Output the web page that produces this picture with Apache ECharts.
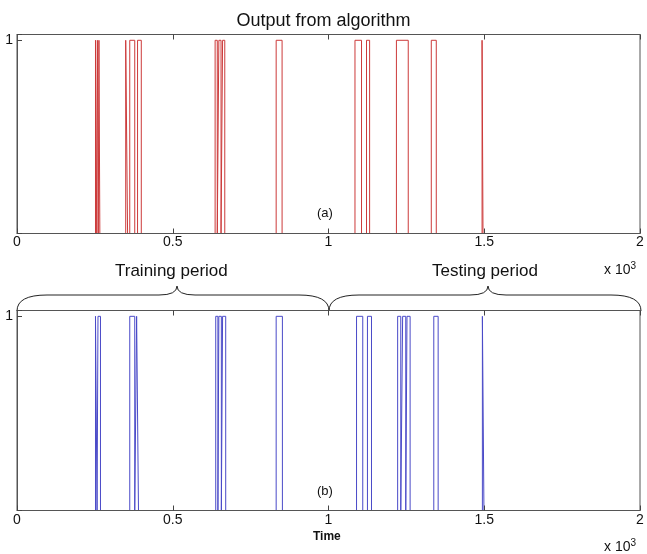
<!DOCTYPE html>
<html>
<head>
<meta charset="utf-8">
<script src="https://cdn.jsdelivr.net/npm/echarts@6/dist/echarts.min.js"></script>
<style>
  html, body { margin: 0; padding: 0; background: #fff; }
  #chart { width: 647px; height: 554px; }
</style>
</head>
<body>
<div id="chart"></div>
<script>
// pulse start/end times (samples)
const redPulses = [
  [252, 256], [258, 261], [263, 266], [349, 355], [362, 378], [387, 399],
  [636, 643], [648, 655], [660, 667], [832, 851], [1085, 1106], [1122, 1132],
  [1218, 1256], [1330, 1346], [1493, 1496],
]
const bluePulses = [
  [252, 257], [260, 268], [362, 378], [384, 390], [638, 645], [648, 656],
  [660, 670], [832, 852], [1090, 1110], [1125, 1138], [1222, 1232],
  [1238, 1248], [1252, 1262], [1338, 1352], [1494, 1499],
]
const xTicks = [0, 500, 1000, 1500, 2000]
const xMax = 2000
const yMax = 1.03

const FONT = 'Liberation Sans, Arial, sans-serif'

function toSteps(pulses) {
  const pts = [[0, 0]]
  pulses.forEach(([a, b]) => {
    pts.push([a, 0], [a, 1], [b, 1], [b, 0])
  })
  pts.push([xMax, 0])
  return pts
}

function xLabel(v) {
  return xTicks.includes(v) ? String(v / 1000) : ''
}

function bottomAxis(gridIndex, margin) {
  return {
    gridIndex,
    type: 'value',
    z: 5,
    min: 0,
    max: xMax,
    interval: 500,
    axisLine: { lineStyle: { color: '#555', width: 1 } },
    axisTick: { inside: true, length: 5, lineStyle: { color: '#444' } },
    axisLabel: { color: '#111', fontSize: 14, fontFamily: FONT, margin, formatter: xLabel },
    splitLine: { show: false },
  }
}

function topAxis(gridIndex) {
  return {
    gridIndex,
    type: 'value',
    position: 'top',
    min: 0,
    max: xMax,
    interval: 500,
    axisLine: { lineStyle: { color: '#555', width: 1 } },
    axisTick: { inside: true, length: 5, lineStyle: { color: '#444' } },
    axisLabel: { show: false },
    splitLine: { show: false },
  }
}

function leftAxis(gridIndex) {
  return {
    gridIndex,
    type: 'value',
    z: 5,
    min: 0,
    max: yMax,
    interval: 1,
    axisLine: { show: true, lineStyle: { color: '#555', width: 1 } },
    axisTick: { inside: true, length: 5, lineStyle: { color: '#444' } },
    axisLabel: {
      color: '#111', fontSize: 14, fontFamily: FONT, margin: 4,
      formatter: (v) => (v === 1 ? '1' : ''),
    },
    splitLine: { show: false },
  }
}

// curly brace built from quadratic curves and straight pieces
function brace(x0, x1, tip, yEnd, yMid, yTip) {
  const r = 30
  const k = 18
  const st = { stroke: '#222', lineWidth: 1, fill: null }
  const curve = (ax, ay, cx, cy, bx, by) => ({
    type: 'bezierCurve',
    shape: { x1: ax, y1: ay, cpx1: cx, cpy1: cy, x2: bx, y2: by },
    style: st,
  })
  const line = (ax, ay, bx, by) => ({
    type: 'line',
    shape: { x1: ax, y1: ay, x2: bx, y2: by },
    style: st,
  })
  return [
    curve(x0, yEnd, x0, yMid, x0 + r, yMid),
    line(x0 + r, yMid, tip - k, yMid),
    curve(tip - k, yMid, tip, yMid, tip, yTip),
    curve(tip, yTip, tip, yMid, tip + k, yMid),
    line(tip + k, yMid, x1 - r, yMid),
    curve(x1 - r, yMid, x1, yMid, x1, yEnd),
  ]
}

const chart = echarts.init(document.getElementById('chart'), null, { renderer: 'canvas' })

chart.setOption({
  animation: false,
  backgroundColor: '#fff',
  title: {
    text: 'Output from algorithm',
    left: 'center',
    top: 7,
    textStyle: { fontSize: 18, fontWeight: 'normal', color: '#111', fontFamily: FONT },
  },
  grid: [
    { left: 17, right: 7, top: 34.5, height: 199, show: true, borderColor: '#555', borderWidth: 1 },
    { left: 17, right: 7, top: 310.5, height: 200, show: true, borderColor: '#555', borderWidth: 1 },
  ],
  xAxis: [bottomAxis(0, 2), bottomAxis(1, 3), topAxis(0), topAxis(1)],
  yAxis: [leftAxis(0), leftAxis(1)],
  series: [
    {
      name: 'a',
      type: 'line',
      z: 1,
      xAxisIndex: 0,
      yAxisIndex: 0,
      showSymbol: false,
      lineStyle: { color: '#cc3a3a', width: 1 },
      data: toSteps(redPulses),
    },
    {
      name: 'b',
      type: 'line',
      z: 1,
      xAxisIndex: 1,
      yAxisIndex: 1,
      showSymbol: false,
      lineStyle: { color: '#4a4ac8', width: 1 },
      data: toSteps(bluePulses),
    },
  ],
  graphic: [
    { type: 'text', left: 317, top: 207, style: { text: '(a)', fontSize: 13, fontFamily: FONT, fill: '#111' } },
    { type: 'text', left: 317, top: 485, style: { text: '(b)', fontSize: 13, fontFamily: FONT, fill: '#111' } },
    { type: 'text', left: 115, top: 263, style: { text: 'Training period', fontSize: 17, fontFamily: FONT, fill: '#111' } },
    { type: 'text', left: 432, top: 263, style: { text: 'Testing period', fontSize: 17, fontFamily: FONT, fill: '#111' } },
    {
      type: 'text', left: 604, top: 261,
      style: {
        text: 'x 10{s|3}', fontSize: 14, fontFamily: FONT, fill: '#111',
        rich: { s: { fontSize: 10, verticalAlign: 'top', padding: [0, 0, 8, 0], fontFamily: FONT, fill: '#111' } },
      },
    },
    {
      type: 'text', left: 604, top: 538,
      style: {
        text: 'x 10{s|3}', fontSize: 14, fontFamily: FONT, fill: '#111',
        rich: { s: { fontSize: 10, verticalAlign: 'top', padding: [0, 0, 8, 0], fontFamily: FONT, fill: '#111' } },
      },
    },
    { type: 'text', left: 313, top: 531, style: { text: 'Time', fontSize: 12, fontWeight: 'bold', fontFamily: FONT, fill: '#111' } },
    ...brace(17, 329, 177, 311, 295, 286),
    ...brace(329, 641, 488, 311, 295, 286),
  ],
})
</script>
</body>
</html>
